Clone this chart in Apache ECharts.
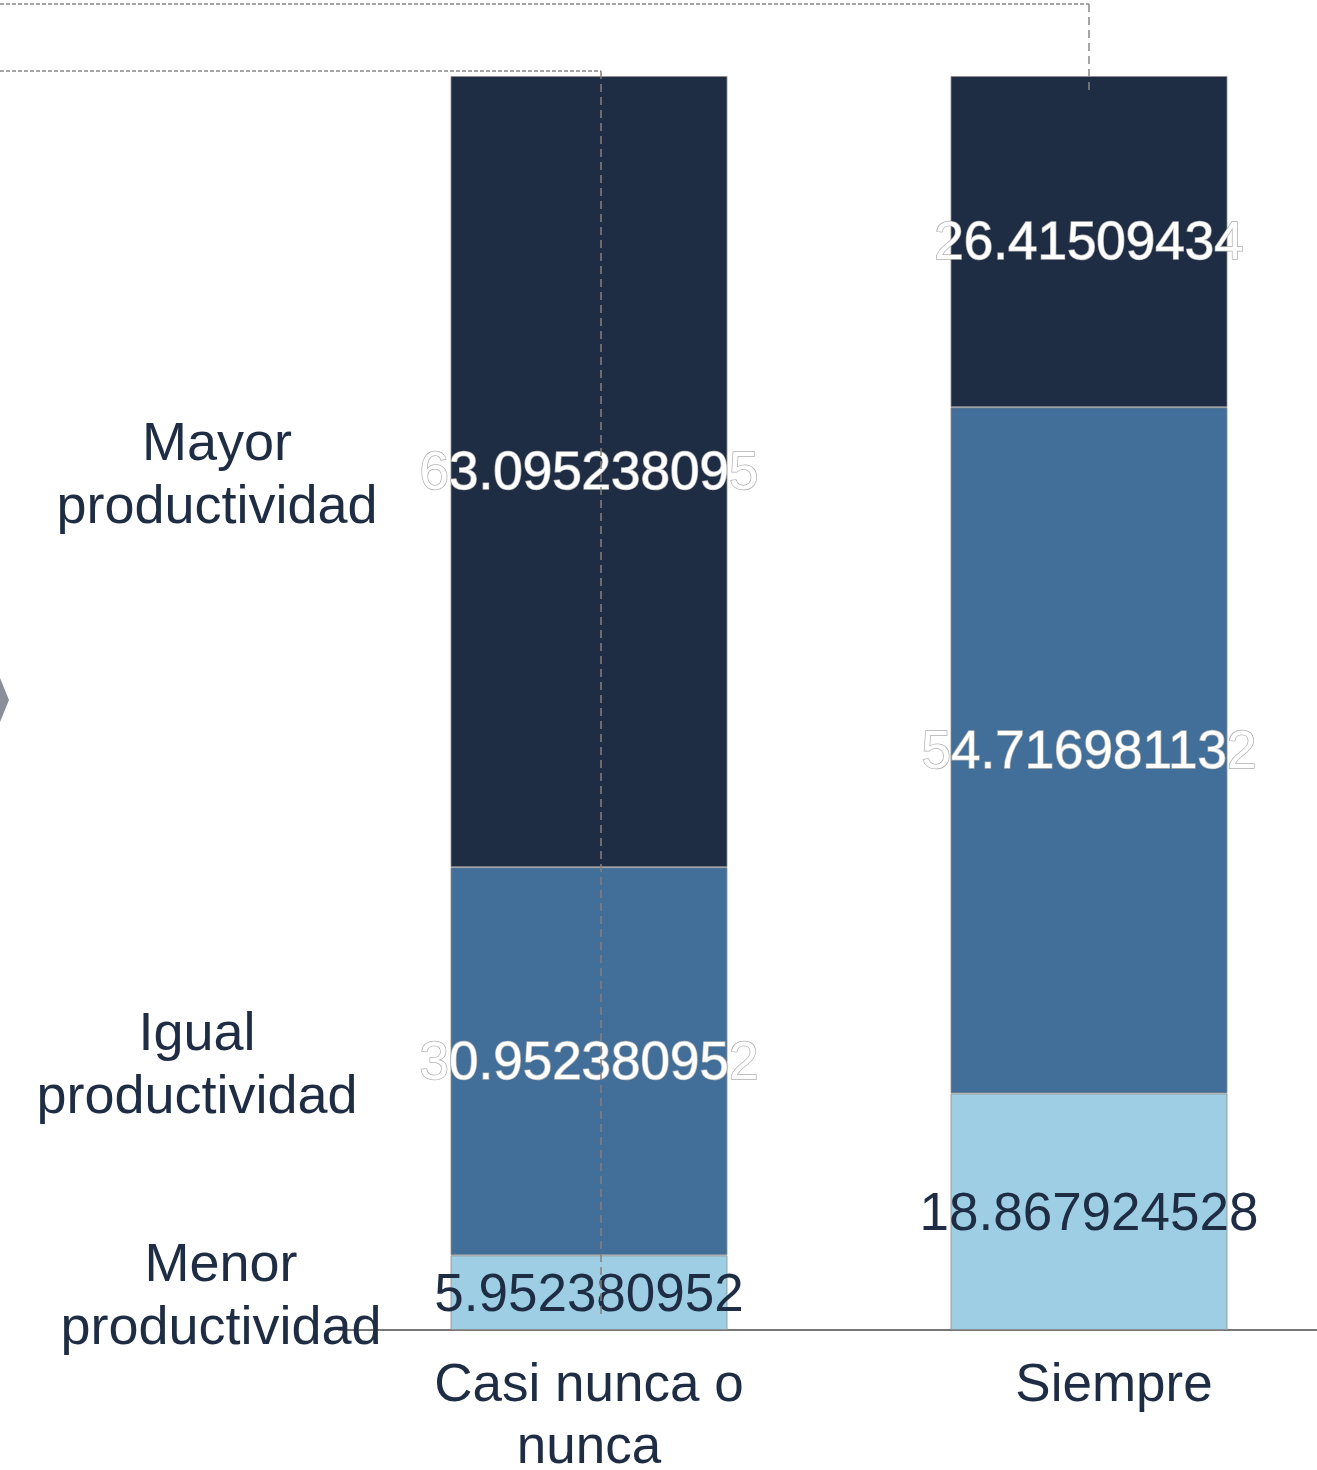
<!DOCTYPE html>
<html>
<head>
<meta charset="utf-8">
<script src="https://cdn.jsdelivr.net/npm/echarts@6/dist/echarts.min.js"></script>
<style>html,body{margin:0;padding:0;background:#fff;}#c{width:1317px;height:1470px;}</style>
</head>
<body>
<div id="c"></div>
<script>
const categories = ['Casi nunca o\nnunca', 'Siempre'];
const seriesNames = ['Menor\nproductividad', 'Igual\nproductividad', 'Mayor\nproductividad'];
const menor = [5.952380952, 18.867924528];
const igual = [30.952380952, 54.716981132];
const mayor = [63.095238095, 26.41509434];

const FONT = '"Liberation Sans", Arial, sans-serif';
const TEXT = '#1E2D44';
const colors = ['#9ECEE3', '#426F99', '#1F2D44'];

const chart = echarts.init(document.getElementById('c'));

function lightLabel() {
  return { show: true, position: 'inside', offset: [0, 4], color: TEXT, fontSize: 53, fontFamily: FONT,
    formatter: p => String(p.value) };
}
function darkLabel() {
  return { show: true, position: 'inside', offset: [0, 3], color: '#ffffff', fontSize: 53, fontFamily: FONT,
    textBorderColor: '#b0b0b0', textBorderWidth: 1.5,
    formatter: p => String(p.value) };
}
const itemStyleFor = c => ({ color: c, borderColor: 'rgba(140,140,140,0.8)', borderWidth: 1 });

const option = {
  animation: false,
  backgroundColor: '#ffffff',
  grid: { left: 339, width: 1000, top: 76, bottom: 140, containLabel: false, outerBoundsMode: 'none' },
  xAxis: {
    type: 'category',
    data: categories,
    axisLine: { show: true, lineStyle: { color: '#777', width: 2 } },
    axisTick: { show: false },
    axisLabel: {
      color: TEXT, fontSize: 53, fontFamily: FONT, lineHeight: 62, margin: 25, interval: 0,
      formatter: v => v === 'Siempre' ? '{s|Siempre}' : v,
      rich: { s: { color: TEXT, fontSize: 53, fontFamily: FONT, padding: [0, 0, 0, 50] } }
    }
  },
  yAxis: { type: 'value', min: 0, max: 100, show: false, splitLine: { show: false } },
  series: [
    { name: seriesNames[0], type: 'bar', stack: 't', barWidth: 277, data: menor,
      itemStyle: itemStyleFor(colors[0]), label: lightLabel(), z: 2 },
    { name: seriesNames[1], type: 'bar', stack: 't', barWidth: 277, data: igual,
      itemStyle: itemStyleFor(colors[1]), label: darkLabel(), z: 2 },
    { name: seriesNames[2], type: 'bar', stack: 't', barWidth: 277, data: mayor,
      itemStyle: itemStyleFor(colors[2]), label: darkLabel(), z: 2 }
  ]
};
chart.setOption(option);

// Side labels aligned with the first bar's segment centres
const leftX = [221, 197, 217];
const segVals = [menor, igual, mayor];
let cum = 0;
const texts = [];
for (let i = 0; i < 3; i++) {
  const v = segVals[i][0];
  const mid = cum + v / 2;
  cum += v;
  const y = chart.convertToPixel({ yAxisIndex: 0 }, mid);
  texts.push({
    type: 'text', x: leftX[i], y: y + 5, z: 20,
    style: { text: seriesNames[i], fill: TEXT, fontSize: 54, fontFamily: FONT,
      lineHeight: 63, align: 'center', verticalAlign: 'middle' }
  });
}

chart.setOption({
  graphic: texts.concat([
    { type: 'polyline', z: 10, shape: { points: [[0, 4], [1089, 4]] },
      style: { stroke: '#888', lineWidth: 1.5, lineDash: [4, 2], fill: null } },
    { type: 'polyline', z: 10, shape: { points: [[1089, 4], [1089, 90]] },
      style: { stroke: '#888', lineWidth: 1.5, lineDash: [8, 5], fill: null } },
    { type: 'polyline', z: 10, shape: { points: [[0, 71], [601, 71]] },
      style: { stroke: '#888', lineWidth: 1.5, lineDash: [4, 2], fill: null } },
    { type: 'polyline', z: 10, shape: { points: [[601, 71], [601, 1316]] },
      style: { stroke: '#8a7f78', lineWidth: 1.5, lineDash: [8, 5], fill: null } },
    { type: 'polygon', z: 10, shape: { points: [[0, 678], [9, 700], [0, 722]] },
      style: { fill: '#8A8F99' } }
  ])
});
</script>
</body>
</html>
